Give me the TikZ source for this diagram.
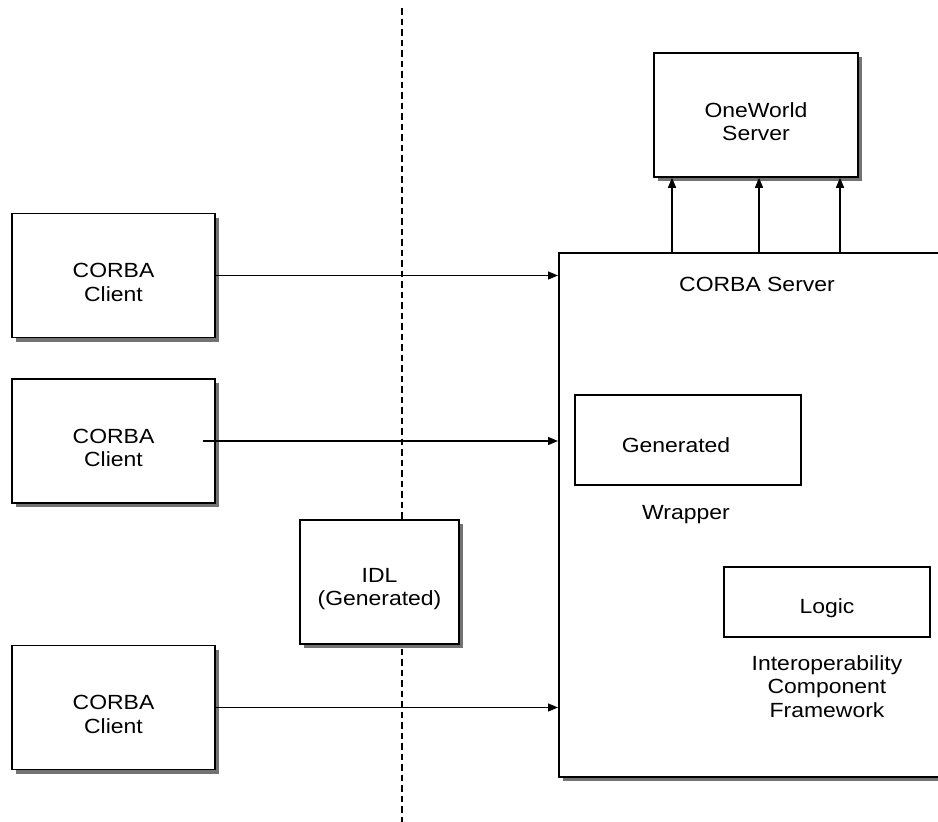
\documentclass[tikz,border=0pt]{standalone}
\usepackage{fontspec}
\setmainfont{Liberation Sans}[FakeStretch=1.12]
\usepackage{tikz}
\usetikzlibrary{arrows.meta, positioning, shadows, calc}

\newcommand{\pad}{\rule{0pt}{28pt}}

\begin{document}
\begin{tikzpicture}[
    x=1pt, y=-1pt,
    font=\fontsize{20.5}{23.5}\selectfont,
    node distance=40pt,
    box/.style={draw, line width=1.5pt, fill=white, minimum width=203pt, minimum height=124pt, align=center,
        drop shadow={shadow xshift=4pt, shadow yshift=-4pt, fill=black!55, opacity=1}},
    inner/.style={draw, line width=1.5pt, fill=white},
    arrow/.style={-{Triangle[length=10pt,width=8pt]}, line width=1.4pt}
]
    \useasboundingbox (0,0) rectangle (938,822);
    \clip (0,0) rectangle (938,822);

    % IDL boundary
    \coordinate (bndtop) at (402,8);
    \coordinate (bndbot) at (402,822);
    \draw[line width=1.3pt, dash pattern=on 6.5pt off 4pt] (bndtop) -- (bndbot);

    % Clients
    \node[box] (client1) at (113.5,275.5) {\pad CORBA\\Client};
    \node[box, below=40pt of client1] (client2) {\pad CORBA\\Client};
    \node[box, below=141pt of client2] (client3) {\pad CORBA\\Client};

    % IDL
    \node[box, minimum width=159pt] (idl) at (379.5,582) {\pad IDL\\(Generated)};

    % OneWorld Server
    \node[box, minimum width=204pt] (oneworld) at (756,115) {\pad OneWorld\\Server};

    % CORBA Server
    \node[box, minimum width=450pt, minimum height=524pt, anchor=north west] (server) at (558,252) {};
    \node (srvlbl) at (757,284) {CORBA Server};

    % Wrapper and Logic
    \node[inner, minimum width=226pt, minimum height=90pt] (gen) at (688,440) {};
    \node (genlbl) at (676,445) {Generated};
    \node (wrapper) at (686,515) {Wrapper};
    \node[inner, minimum width=206pt, minimum height=70pt] (logic) at (827,602) {\pad Logic};
    \node[align=center, below=14pt of logic] (icf) {Interoperability\\Component\\Framework};

    % Client calls
    \coordinate (c2start) at ([xshift=-13pt]client2.east);
    \draw[arrow] (client1.east) -- (client1.east -| server.west);
    \draw[arrow] (c2start) -- (c2start -| server.west);
    \draw[arrow] (client3.east) -- (client3.east -| server.west);

    % Server to OneWorld
    \foreach \xx in {672,759,840}
        \draw[arrow] (\xx,0 |- server.north) -- (\xx,0 |- oneworld.south);

\end{tikzpicture}
\end{document}
